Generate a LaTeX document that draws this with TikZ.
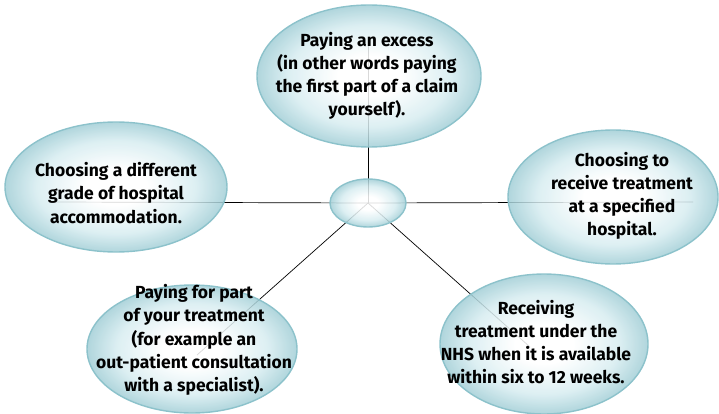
\documentclass[tikz,border=0pt]{standalone}
\usepackage{fontspec}
\setmainfont{Fira Sans}
\usetikzlibrary{shapes.geometric}

\definecolor{bubbleedge}{RGB}{140,194,203}
\definecolor{bubbleouter}{RGB}{162,206,214}
\definecolor{bubblemid}{RGB}{214,236,240}
\pgfdeclareradialshading{bubbleshade}{\pgfpoint{0bp}{0bp}}{%
  color(0bp)=(white); color(7bp)=(white); color(18bp)=(bubblemid);
  color(25bp)=(bubbleouter); color(50bp)=(bubbleouter)}

\begin{document}
\begin{tikzpicture}[x=1pt, y=-1pt,
    bubble/.style={ellipse, draw=bubbleedge, line width=1.4pt, shading=bubbleshade,
      fill opacity=0.85, draw opacity=1, inner sep=0pt},
    bubbletext/.style={font=\bfseries\fontsize{17.5}{23.2}\selectfont, align=center, text=black},
    spoke/.style={line width=0.7pt, black}]
  \useasboundingbox (0,0) rectangle (719,414);

  % Punti finali dei raggi (dentro le bolle)
  \coordinate (hubc)  at (368,203);
  \coordinate (endT)  at (368,45);
  \coordinate (endL)  at (55,202);
  \coordinate (endR)  at (693,202);
  \coordinate (endBL) at (197,355);
  \coordinate (endBR) at (530,347);

  % Raggi dal centro
  \draw[spoke] (hubc) -- (endT);
  \draw[spoke] (hubc) -- (endL);
  \draw[spoke] (hubc) -- (endR);
  \draw[spoke] (hubc) -- (endBL);
  \draw[spoke] (hubc) -- (endBR);

  % Bolle
  \node[bubble, minimum width=76, minimum height=48] (hub) at (hubc) {};
  \node[bubble, minimum width=224, minimum height=142] (excess) at (369,76) {};
  \node[bubble, minimum width=222, minimum height=130] (grade) at (116,187) {};
  \node[bubble, minimum width=210, minimum height=134] (hospital) at (613,197) {};
  \node[bubble, minimum width=210, minimum height=128] (part) at (192,349) {};
  \node[bubble, minimum width=208, minimum height=140] (nhs) at (544,344) {};

  % Testi
  \node[bubbletext] (excesstext) at (367,76) {Paying an excess\\(in other words paying\\the first part of a claim\\yourself).};
  \node[bubbletext] (gradetext) at (116,193) {Choosing a different\\grade of hospital\\accommodation.};
  \node[bubbletext] (hospitaltext) at (622,196) {Choosing to\\receive treatment\\at a specified\\hospital.};
  \node[bubbletext] (parttext) at (194,340) {Paying for part\\of your treatment\\(for example an\\out-patient consultation\\with a specialist).};
  \node[bubbletext] (nhstext) at (536,342) {Receiving\\treatment under the\\NHS when it is available\\within six to 12 weeks.};
\end{tikzpicture}
\end{document}
